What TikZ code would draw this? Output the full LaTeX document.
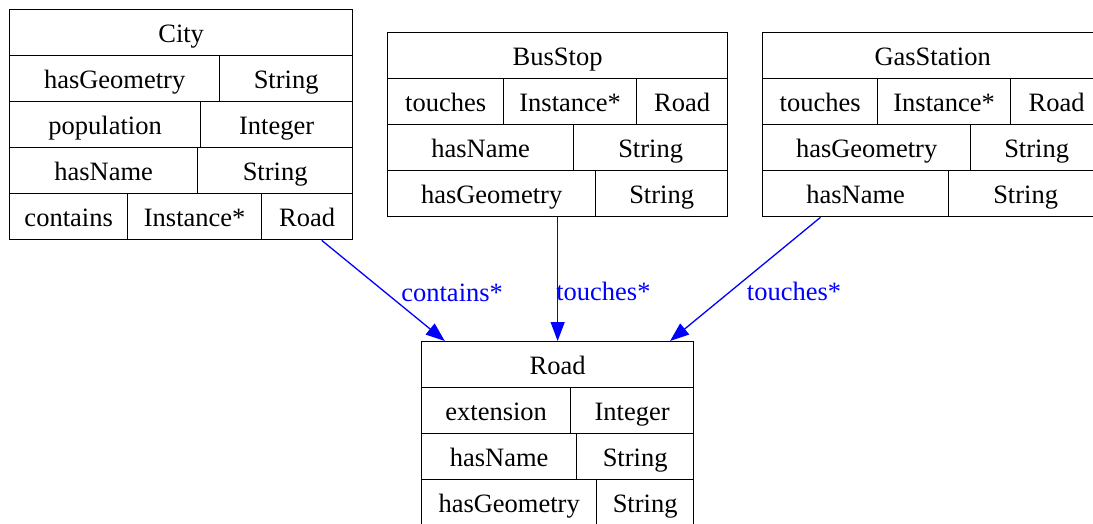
\documentclass[tikz,border=0pt]{standalone}
\usepackage{fontspec}
\setmainfont{Liberation Serif}
\usepackage{tikz}
\usetikzlibrary{arrows.meta}

\begin{document}
\begin{tikzpicture}[x=1pt,y=-1pt,
	tbl/.style={draw, line width=1.3pt, inner sep=0pt, anchor=north west},
	cell/.style={draw, line width=1.3pt, inner sep=0pt, anchor=north west, minimum height=46pt, text height=24pt, text depth=4pt, font=\fontsize{26.5}{30}\selectfont},
	rel/.style={blue, line width=1.3pt, -{Triangle[length=19pt,width=14pt]}},
	rellbl/.style={blue, inner sep=0pt, anchor=west, font=\fontsize{26.5}{30}\selectfont}]
	\useasboundingbox (0,0) rectangle (1093,523);
	% City
	\node[tbl, minimum width=343pt, minimum height=230pt] (city) at (9,9) {};
	\node[cell, minimum width=343pt] (city-t) at (9,9) {City};
	\node[cell, minimum width=210pt] (city-geo) at (9,55) {hasGeometry};
	\node[cell, minimum width=133pt] (city-geo-ty) at (219,55) {String};
	\node[cell, minimum width=191pt] (city-pop) at (9,101) {population};
	\node[cell, minimum width=152pt] (city-pop-ty) at (200,101) {Integer};
	\node[cell, minimum width=188pt] (city-name) at (9,147) {hasName};
	\node[cell, minimum width=155pt] (city-name-ty) at (197,147) {String};
	\node[cell, minimum width=118pt] (city-cont) at (9,193) {contains};
	\node[cell, minimum width=134pt] (city-cont-ty) at (127,193) {Instance*};
	\node[cell, minimum width=91pt] (city-cont-cl) at (261,193) {Road};
	% BusStop
	\node[tbl, minimum width=340pt, minimum height=184pt] (bus) at (387,32) {};
	\node[cell, minimum width=340pt] (bus-t) at (387,32) {BusStop};
	\node[cell, minimum width=116pt] (bus-tch) at (387,78) {touches};
	\node[cell, minimum width=133pt] (bus-tch-ty) at (503,78) {Instance*};
	\node[cell, minimum width=91pt] (bus-tch-cl) at (636,78) {Road};
	\node[cell, minimum width=186pt] (bus-name) at (387,124) {hasName};
	\node[cell, minimum width=154pt] (bus-name-ty) at (573,124) {String};
	\node[cell, minimum width=208pt] (bus-geo) at (387,170) {hasGeometry};
	\node[cell, minimum width=132pt] (bus-geo-ty) at (595,170) {String};
	% GasStation
	\node[tbl, minimum width=340pt, minimum height=184pt] (gas) at (762,32) {};
	\node[cell, minimum width=340pt] (gas-t) at (762,32) {GasStation};
	\node[cell, minimum width=115pt] (gas-tch) at (762,78) {touches};
	\node[cell, minimum width=133pt] (gas-tch-ty) at (877,78) {Instance*};
	\node[cell, minimum width=92pt] (gas-tch-cl) at (1010,78) {Road};
	\node[cell, minimum width=208pt] (gas-geo) at (762,124) {hasGeometry};
	\node[cell, minimum width=132pt] (gas-geo-ty) at (970,124) {String};
	\node[cell, minimum width=186pt] (gas-name) at (762,170) {hasName};
	\node[cell, minimum width=154pt] (gas-name-ty) at (948,170) {String};
	% Road
	\node[tbl, minimum width=272pt, minimum height=184pt] (road) at (421,341) {};
	\node[cell, minimum width=272pt] (road-t) at (421,341) {Road};
	\node[cell, minimum width=149pt] (road-ext) at (421,387) {extension};
	\node[cell, minimum width=123pt] (road-ext-ty) at (570,387) {Integer};
	\node[cell, minimum width=155pt] (road-name) at (421,433) {hasName};
	\node[cell, minimum width=117pt] (road-name-ty) at (576,433) {String};
	\node[cell, minimum width=175pt] (road-geo) at (421,479) {hasGeometry};
	\node[cell, minimum width=97pt] (road-geo-ty) at (596,479) {String};
	% relations
	\draw[rel] (city) -- node[rellbl, pos=0.52, xshift=15pt] (lbl-cont) {contains*} (road);
	\draw[rel] (bus) -- node[rellbl, pos=0.6, xshift=-2pt] (lbl-bus) {touches*} (road);
	\draw[rel] (gas) -- node[rellbl, pos=0.6, xshift=16pt] (lbl-gas) {touches*} (road);
\end{tikzpicture}
\end{document}
